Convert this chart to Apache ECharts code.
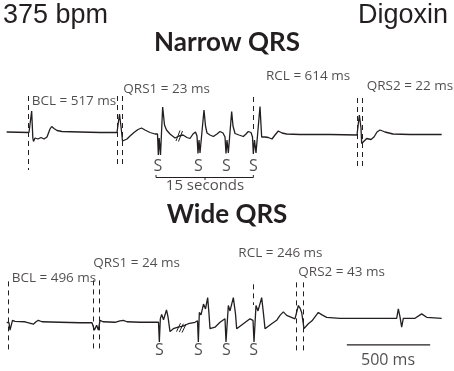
<!DOCTYPE html>
<html>
<head>
<meta charset="utf-8">
<script src="https://cdn.jsdelivr.net/npm/echarts@6/dist/echarts.min.js"></script>
<style>
html, body { margin: 0; background: #fff; }
#main { width: 454px; height: 371px; }
</style>
</head>
<body>
<div id="main"></div>
<script>
// traces: time in ms, amplitude in mV
var narrowTime = [
  40, 174, 183, 190, 197, 201, 210, 228, 246, 264, 282, 300, 310, 324, 342, 372, 480, 600, 702,
  711, 717, 722, 727, 735, 744, 762, 780, 804, 828, 849, 870, 900, 930,
  945, 950, 955, 963, 976, 987, 999, 1020, 1050, 1074, 1098, 1122, 1140, 1158, 1173,
  1182, 1188, 1194, 1200, 1224, 1233, 1242, 1260, 1280, 1302, 1320, 1338,
  1350, 1356, 1362, 1370, 1390, 1398, 1410, 1434, 1460, 1476, 1490, 1506,
  1515, 1520, 1527, 1536, 1560, 1566, 1570, 1590, 1610, 1632, 1650, 1670, 1692, 1720, 1800, 1980, 2142,
  2151, 2156, 2162, 2166, 2170, 2178, 2200, 2226, 2244, 2262, 2280, 2310, 2358, 2460, 2650
]
var narrowMv = [
  0, -0.01, 0.02, 0.42, -0.12, -0.19, -0.12, -0.14, -0.11, -0.14, -0.10, 0.06, 0.11, 0.07, 0.03, 0.01, 0, -0.01, -0.01,
  0, 0.36, 0.40, 0.08, -0.18, -0.15, -0.14, -0.08, -0.01, 0.05, 0.08, 0.04, -0.01, -0.04,
  -0.04, -0.46, -0.12, -0.46, 0.50, 0.14, 0.04, -0.04, -0.12, -0.08, -0.06, -0.11, -0.13, -0.04, 0,
  -0.08, -0.43, -0.16, -0.42, 0.44, 0.12, -0.02, -0.06, -0.09, -0.04, 0.01, -0.02,
  -0.10, -0.43, -0.16, -0.42, 0.41, 0.12, -0.03, -0.06, -0.09, -0.04, 0.01, -0.01,
  -0.10, -0.44, -0.16, -0.42, 0.51, 0.14, -0.10, -0.10, -0.11, -0.14, -0.06, 0.02, -0.02, -0.04, -0.05, -0.05, -0.06,
  -0.02, 0.34, 0.37, 0.08, -0.23, -0.20, -0.13, -0.15, -0.10, 0, 0.04, 0, -0.04, -0.05, -0.05
]
var wideTime = [
  40, 54, 60, 66, 75, 90, 150, 200, 216, 230, 252, 360, 480, 552,
  566, 580, 590, 600, 618, 690, 720, 740, 762, 840, 951,
  956, 962, 970, 981, 999, 1008, 1020, 1040, 1068, 1098, 1130, 1170, 1185,
  1190, 1196, 1206, 1221, 1233, 1246, 1254, 1260, 1290, 1320, 1350,
  1356, 1370, 1380, 1400, 1413, 1420, 1460, 1500, 1518,
  1524, 1536, 1548, 1570, 1581, 1590, 1630, 1660, 1680, 1700, 1720, 1770,
  1782, 1790, 1800, 1810, 1824, 1830, 1850, 1872, 1910, 1932, 1960, 2040, 2220, 2380,
  2390, 2400, 2410, 2420, 2490, 2530, 2560, 2650
]
var wideMv = [
  -0.01, -0.02, -0.17, -0.14, 0.03, 0.01, 0, -0.05, 0, 0.03, 0, -0.01, -0.02, -0.02,
  -0.17, -0.07, -0.17, 0.03, 0, -0.01, 0.02, 0.03, 0, -0.01, -0.01,
  -0.41, 0.06, 0.15, 0.04, 0.24, 0.10, -0.20, -0.14, -0.11, -0.09, -0.04, -0.01, 0.02,
  -0.41, 0.19, 0.14, 0.36, 0.26, 0.49, 0.16, -0.14, -0.11, -0.01, 0.06,
  -0.41, 0.33, 0.22, 0.49, 0.16, -0.14, -0.04, 0.06, 0.03,
  -0.41, 0.33, 0.22, 0.49, 0.16, -0.14, -0.04, 0.03, 0.13, 0.20, 0.13, 0.06,
  0.08, 0.33, 0.28, 0.19, -0.14, -0.17, -0.04, 0.02, 0.19, 0.14, 0.09, 0.07, 0.07, 0.07,
  0.26, 0.10, -0.11, 0.07, 0.07, 0.16, 0.09, 0.07
]

// dashed cursors: [time, top mV, bottom mV]
var narrowCursors = [[170, 0.72, -0.76], [705, 0.72, -0.72], [731, 0.72, -0.72], [1520, 0.70, 0.04], [2146, 0.68, -0.72], [2174, 0.68, -0.72]]
var wideCursors = [[50, 0.82, -0.62], [562, 0.84, -0.62], [594, 0.84, -0.62], [1522, 0.76, 0.34], [1776, 0.80, -0.64], [1820, 0.80, -0.64]]

var narrowNotes = ['BCL = 517 ms', 'QRS1 = 23 ms', 'RCL = 614 ms', 'QRS2 = 22 ms']
var narrowNoteAt = [[190, 0.61], [740, 0.85], [1596, 1.12], [2200, 0.91]]
var wideNotes = ['BCL = 496 ms', 'QRS1 = 24 ms', 'RCL = 246 ms', 'QRS2 = 43 ms']
var wideNoteAt = [[70, 0.88], [560, 1.19], [1430, 1.39], [1790, 1.01]]

// stimulus marks (S)
var narrowStim = [948, 1190, 1359, 1520]
var wideStim = [957, 1190, 1358, 1522]

// break marks and the 15 s bracket
var narrowBreaks = [[[1056, -0.18], [1080, 0.03]], [[1071, -0.19], [1095, 0.02]]]
var wideBreaks = [[[1059, -0.20], [1083, -0.03]], [[1076, -0.21], [1100, -0.04]], [[1092, -0.22], [1116, -0.05]]]
var bracket = [[[936, -0.86], [936, -0.91], [1520, -0.91], [1520, -0.86]], [[1230, -0.91], [1230, -0.96]]]
var scaleBarMs = 500

var ink = '#231f20'
var labelFont = 'Open Sans'

function zip(t, v) {
    return t.map(function (x, i) { return [x, v[i]] })
}

function traceSeries(idx, t, v) {
    return {
        type: 'line', xAxisIndex: idx, yAxisIndex: idx,
        data: zip(t, v), showSymbol: false, silent: true,
        lineStyle: { color: ink, width: 1.3 }
    }
}

function cursorSeries(idx, cursors) {
    return {
        type: 'lines', coordinateSystem: 'cartesian2d', xAxisIndex: idx, yAxisIndex: idx, silent: true,
        data: cursors.map(function (c) { return { coords: [[c[0], c[1]], [c[0], c[2]]] } }),
        lineStyle: { color: ink, width: 1, type: [5, 4], opacity: 1 }
    }
}

function segSeries(idx, segs, w) {
    return {
        type: 'lines', coordinateSystem: 'cartesian2d', polyline: true, xAxisIndex: idx, yAxisIndex: idx, silent: true,
        data: segs.map(function (s) { return { coords: s } }),
        lineStyle: { color: ink, width: w, opacity: 1 }
    }
}

function noteSeries(idx, items, pos, size) {
    return {
        type: 'scatter', xAxisIndex: idx, yAxisIndex: idx, symbolSize: 0, silent: true, clip: false,
        data: items,
        label: { show: true, position: pos, distance: 0, formatter: '{b}', color: ink, fontFamily: labelFont, fontSize: size }
    }
}

var chart = echarts.init(document.getElementById('main'))

var axisX = function (idx) {
    return { type: 'value', gridIndex: idx, min: 0, max: 2724, show: false }
}

chart.setOption({
    backgroundColor: '#fff',
    animation: false,
    title: [
        { text: '375 bpm', left: 3, top: 2, padding: 0, textStyle: { fontFamily: 'Liberation Sans', fontSize: 27, fontWeight: 'normal', color: ink } },
        { text: 'Digoxin', right: 6, top: 2, padding: 0, textStyle: { fontFamily: 'Liberation Sans', fontSize: 27, fontWeight: 'normal', color: ink } },
        { text: 'Narrow QRS', left: 'center', top: 30, padding: 0, textStyle: { fontFamily: 'Lato', fontSize: 26, fontWeight: 'bold', color: ink } },
        { text: 'Wide QRS', left: 'center', top: 202, padding: 0, textStyle: { fontFamily: 'Lato', fontSize: 26, fontWeight: 'bold', color: ink } }
    ],
    grid: [
        { left: 0, right: 0, top: 67, height: 130 },
        { left: 0, right: 0, top: 243, height: 130 }
    ],
    xAxis: [axisX(0), axisX(1)],
    yAxis: [
        { type: 'value', gridIndex: 0, min: -1.3, max: 1.3, show: false },
        { type: 'value', gridIndex: 1, min: -1.0, max: 1.6, show: false }
    ],
    series: [
        traceSeries(0, narrowTime, narrowMv),
        traceSeries(1, wideTime, wideMv),
        cursorSeries(0, narrowCursors),
        cursorSeries(1, wideCursors),
        segSeries(0, narrowBreaks, 1),
        segSeries(1, wideBreaks, 1),
        segSeries(0, bracket, 1),
        segSeries(1, [[[2081, -0.47], [2081 + scaleBarMs, -0.47]]], 1.2),
        noteSeries(0, narrowNotes.map(function (n, i) { return { name: n, value: narrowNoteAt[i] } }), 'right', 13.5),
        noteSeries(1, wideNotes.map(function (n, i) { return { name: n, value: wideNoteAt[i] } }), 'right', 13.5),
        noteSeries(0, narrowStim.map(function (t) { return { name: 'S', value: [t, -0.68] } }), 'inside', 16),
        noteSeries(1, wideStim.map(function (t) { return { name: 'S', value: [t, -0.59] } }), 'inside', 16),
        noteSeries(0, [{ name: '15 seconds', value: [1230, -1.08] }], 'inside', 15),
        noteSeries(1, [{ name: scaleBarMs + ' ms', value: [2328, -0.78] }], 'inside', 16)
    ]
})
</script>
</body>
</html>
